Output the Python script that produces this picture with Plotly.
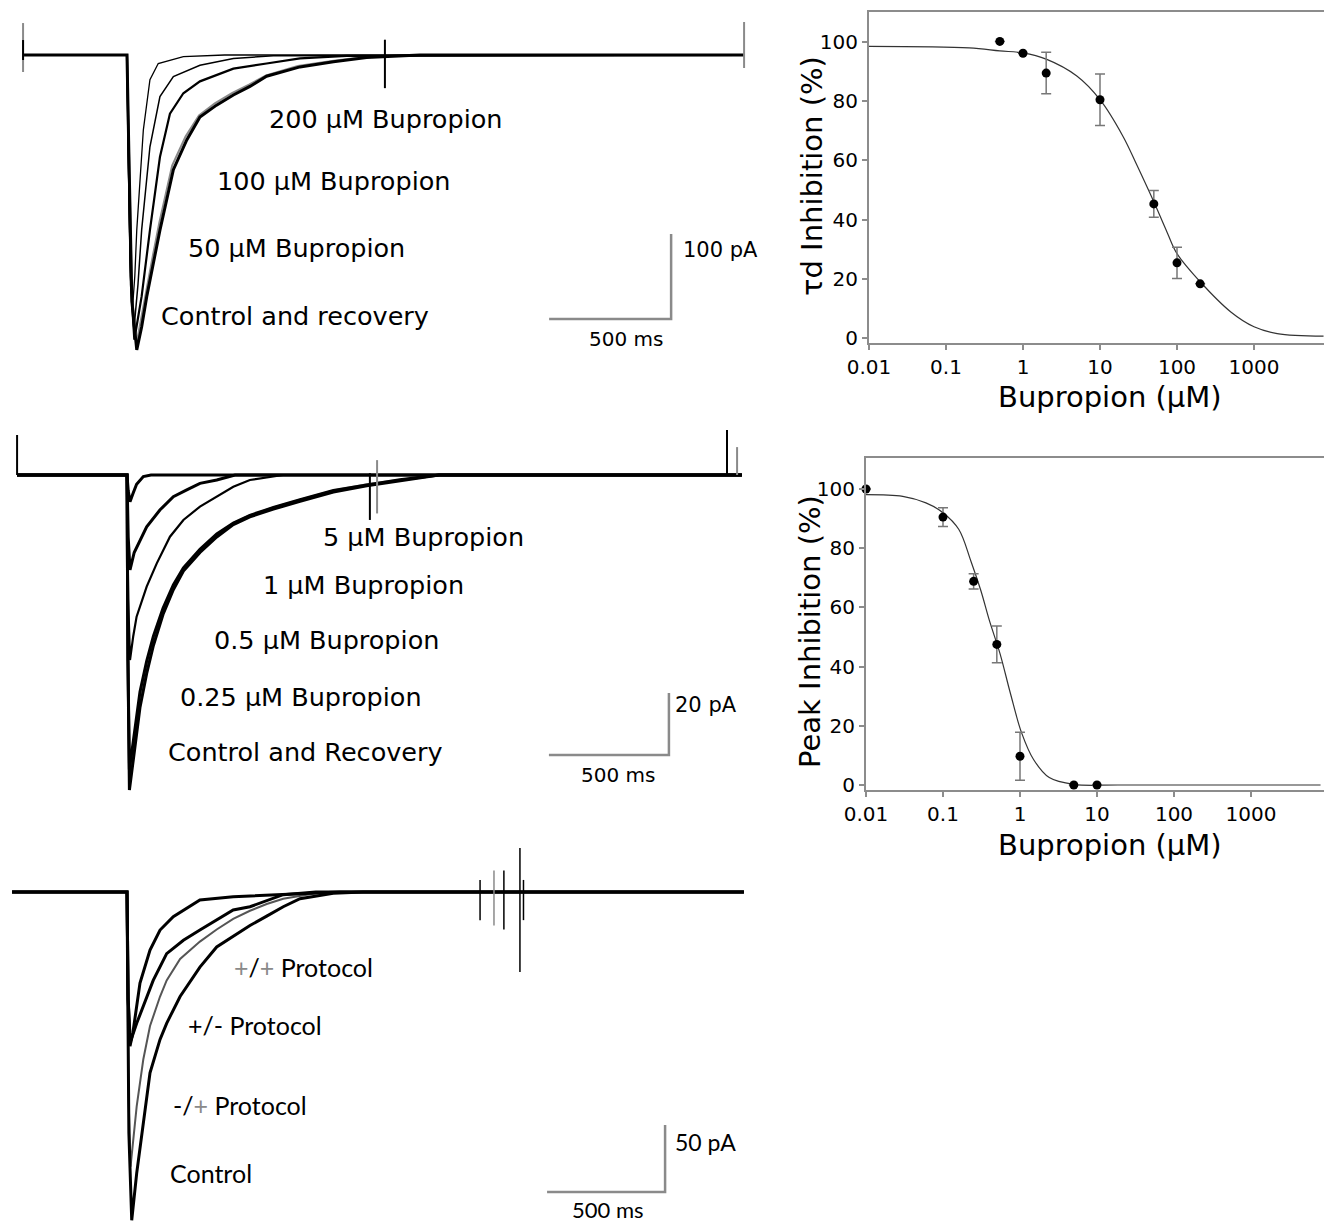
import plotly.graph_objects as go

W, H = 1324, 1224

# ---------------- Data: dose-response panels ----------------
tau_conc = [0.5, 1, 2, 10, 50, 100, 200]
tau_val = [100.2, 96.2, 89.5, 80.5, 45.3, 25.4, 18.3]
tau_err = [0, 0, 7, 8.7, 4.5, 5.3, 0]
tau_fit_conc = [0.01, 0.2, 0.5, 1, 2, 5, 10, 20, 30, 50, 75, 100, 200, 500, 1000, 2000, 8000]
tau_fit_val = [98.5, 98, 97, 96.3, 94.2, 88.5, 80.5, 68, 58.5, 46, 35.5, 28.5, 19, 8.8, 3.8, 1.5, 0.6]

peak_conc = [0.01, 0.1, 0.25, 0.5, 1, 5, 10]
peak_val = [100, 90.5, 68.8, 47.5, 9.7, 0, 0]
peak_err = [0, 3.2, 2.6, 6.2, 8.1, 0, 0]
peak_fit_conc = [0.01, 0.03, 0.06, 0.1, 0.16, 0.23, 0.31, 0.4, 0.55, 0.75, 1.05, 1.5, 2.4, 5, 20, 8000]
peak_fit_val = [98.1, 97.5, 95.3, 92, 86.4, 75.7, 65.7, 55.6, 44.4, 31, 17.6, 8.6, 2.5, 0.2, 0, 0]

x_tickvals = [0.01, 0.1, 1, 10, 100, 1000]
x_ticktext = ["0.01", "0.1", "1", "10", "100", "1000"]
y_tickvals = [0, 20, 40, 60, 80, 100]

# ---------------- Data: current traces (t in ms, I in pA) ----------------
# Panel A (tau_d)
A_start, A_end = -426, 2529
A_ctrl_t = [A_start, 0, 8, 20, 40, 60, 81, 108, 135, 190, 245, 299, 367, 436, 504, 572, 709, 846, 982, 1200, A_end]
A_ctrl_i = [0, 0, -120, -290, -347, -320, -284, -245, -206, -135, -100, -73, -59, -47, -37, -25, -14, -8, -3, 0, 0]
A_rec_t = [A_start, 0, 8, 20, 38, 58, 80, 106, 132, 185, 240, 295, 360, 430, 500, 570, 700, 840, 980, 1200, A_end]
A_rec_i = [0, 0, -110, -280, -341, -312, -276, -236, -198, -130, -96, -71, -57, -45, -35, -24, -13, -7, -2, 0, 0]
A_50_t = [A_start, 0, 6, 16, 30, 60, 94, 135, 176, 231, 299, 436, 572, 709, 900, A_end]
A_50_i = [0, 0, -110, -270, -335, -284, -206, -120, -69, -45, -31, -16, -10, -4, -1, 0]
A_100_t = [A_start, 0, 5, 14, 28, 45, 60, 94, 135, 190, 299, 436, 600, A_end]
A_100_i = [0, 0, -110, -260, -324, -270, -206, -108, -49, -25.5, -12, -4, -1, 0]
A_200_t = [A_start, 0, 4, 12, 22, 32, 40, 67, 94, 128, 231, 400, A_end]
A_200_i = [0, 0, -100, -240, -300, -260, -206, -88, -29, -10, -2, 0, 0]

# Panel B (peak)
B_start, B_end = -458, 2562
B_ctrl_t = [B_start, 0, 4, 10, 26, 54, 82, 110, 150, 193, 235, 304, 374, 443, 512, 610, 721, 860, 999, 1137, 1300, B_end]
B_ctrl_i = [0, 0, -60, -101.6, -92, -75, -64, -55, -45, -37, -31, -25, -20, -16, -13.5, -11, -8.5, -5.5, -3.5, -1.8, 0, 0]
B_rec_t = [B_start, 0, 4, 10, 26, 54, 82, 110, 150, 193, 235, 304, 374, 443, 512, 610, 721, 860, 999, 1137, 1300, B_end]
B_rec_i = [0, 0, -55, -98, -90, -73, -62, -54, -44, -36, -30.5, -24.5, -19.5, -15.5, -13, -10.5, -8, -5, -3, -1.5, 0, 0]
B_025_t = [B_start, 0, 4, 10, 26, 54, 82, 110, 150, 193, 235, 304, 374, 443, 512, 610, 721, 860, 999, 1137, 1300, B_end]
B_025_i = [0, 0, -60, -95, -86, -70, -60, -52, -43, -35.5, -30, -24, -19, -15.5, -13, -10.5, -8, -5, -3.2, -1.5, 0, 0]
B_05_t = [B_start, 0, 5, 12.5, 26, 40, 82, 124, 179, 235, 304, 374, 443, 512, 650, B_end]
B_05_i = [0, 0, -40, -59.7, -52, -45.7, -36, -28.5, -19.9, -14.5, -10.2, -7, -3.8, -1.6, 0, 0]
B_1_t = [B_start, 0, 5, 12.5, 30, 54, 82, 137, 193, 249, 304, 374, 450, B_end]
B_1_i = [0, 0, -20, -30.6, -25, -21, -16.7, -11.3, -7, -4.8, -2.7, -1.6, 0, 0]
B_5_t = [B_start, 0, 5, 12.5, 25, 40, 68, 100, B_end]
B_5_i = [0, 0, -5, -8.6, -6, -3, -0.5, 0, 0]

# Panel C (protocols)
C_start, C_end = -487, 2614
C_ctrl_t = [C_start, 0, 8, 20, 41, 69, 97.5, 140, 168, 225, 309, 380, 450, 521, 592, 662, 733, 874, 1000, C_end]
C_ctrl_i = [0, 0, -180, -245, -210, -173, -135, -110, -98, -78, -56, -41, -33, -25, -18, -11, -5, -1, 0, 0]
C_mp_t = [C_start, 0, 6, 15, 41, 69, 97.5, 140, 168, 225, 309, 380, 450, 521, 592, 662, 800, 900, C_end]
C_mp_i = [0, 0, -150, -205, -160, -125, -100, -78, -66, -50, -37, -28, -20, -14, -9, -5, -1, 0, 0]
C_pm_t = [C_start, 0, 5, 14, 41, 69, 111, 168, 239, 309, 380, 450, 521, 662, 800, C_end]
C_pm_i = [0, 0, -80, -112, -98, -85, -66, -46, -36, -28.4, -21, -13.4, -11, -2, 0, 0]
C_pp_t = [C_start, 0, 5, 12.7, 25, 55, 97.5, 140, 196, 267, 309, 450, 733, 900, C_end]
C_pp_i = [0, 0, -80, -115, -105, -68, -43.3, -28.4, -18.4, -11, -6, -3.5, -1, 0, 0]

# artefacts (t, top, bottom)
A_art = [(1057, 18, -39)]
A_ends = [(A_start, 37.6, -20), (A_end, 38.8, -15.3)]
B_art_black = [(B_start, 12.9, 0), (B_end - 62, 14.5, 0), (1012, 0.6, -14.5)]
B_art_gray = [(B_end - 20, 9, 0), (1042, 4.8, -12.4)]
C_art_black = [(1665, 32.8, -59.7), (1496, 9, -21), (1597, 16, -28), (1680, 9, -21)]
C_art_gray = [(1555, 16, -25)]

# scale bars: (t0, t1, i0, di)
A_bar = (1730, 2230, -310.6, 100)
B_bar = (1758, 2258, -90.3, 20)
C_bar = (1780, 2280, -223.9, 50)

# ---------------- Figure ----------------
def fx(p):
    return p / W

def fy(p):
    return 1 - p / H

fig = go.Figure()

def line(t, i, ax, color="black", width=2):
    fig.add_trace(go.Scatter(x=t, y=i, mode="lines", xaxis="x" + ax, yaxis="y" + ax,
                             line=dict(color=color, width=width), hoverinfo="skip",
                             showlegend=False))

# Panel A traces
line(A_rec_t, A_rec_i, "", "#8a8a8a", 2)
line(A_200_t, A_200_i, "", "black", 1.3)
line(A_100_t, A_100_i, "", "black", 1.5)
line(A_50_t, A_50_i, "", "black", 2.2)
line(A_ctrl_t, A_ctrl_i, "", "black", 3)
for t, a, b in A_art:
    line([t, t], [a, b], "", "black", 2)
for t, a, b in A_ends:
    line([t, t], [a, b], "", "#8a8a8a", 2)
line([A_ends[0][0]] * 2, [17.6, -5.9], "", "black", 2)

# Panel B traces
line(B_rec_t, B_rec_i, "2", "#8a8a8a", 2)
line(B_5_t, B_5_i, "2", "black", 3)
line(B_1_t, B_1_i, "2", "black", 3)
line(B_05_t, B_05_i, "2", "black", 2.2)
line(B_025_t, B_025_i, "2", "black", 3)
line(B_ctrl_t, B_ctrl_i, "2", "black", 3)
for t, a, b in B_art_gray:
    line([t, t], [a, b], "2", "#8a8a8a", 2)
for t, a, b in B_art_black:
    line([t, t], [a, b], "2", "black", 2)

# Panel C traces
line(C_mp_t, C_mp_i, "3", "#555555", 2)
line(C_pp_t, C_pp_i, "3", "black", 3)
line(C_pm_t, C_pm_i, "3", "black", 3)
line(C_ctrl_t, C_ctrl_i, "3", "black", 3)
for t, a, b in C_art_gray:
    line([t, t], [a, b], "3", "#8a8a8a", 1.5)
for t, a, b in C_art_black:
    line([t, t], [a, b], "3", "black", 1.5)

# scale bars
for (t0, t1, i0, di), ax in [(A_bar, ""), (B_bar, "2"), (C_bar, "3")]:
    line([t0, t1, t1], [i0, i0, i0 + di], ax, "#8a8a8a", 2.5)

# Dose-response panels
for conc, val, err, fc, fv, ax in [(tau_conc, tau_val, tau_err, tau_fit_conc, tau_fit_val, "4"),
                                   (peak_conc, peak_val, peak_err, peak_fit_conc, peak_fit_val, "5")]:
    fig.add_trace(go.Scatter(x=fc, y=fv, mode="lines", xaxis="x" + ax, yaxis="y" + ax,
                             line=dict(color="#333333", width=1.2, shape="spline"),
                             hoverinfo="skip", showlegend=False))
    fig.add_trace(go.Scatter(x=conc, y=val, mode="markers", xaxis="x" + ax, yaxis="y" + ax,
                             marker=dict(color="black", size=9),
                             error_y=dict(type="data", array=err, visible=True,
                                          color="#777777", thickness=1.5, width=5),
                             cliponaxis=False, hoverinfo="skip", showlegend=False))

# ---------------- Layout ----------------
def hidden(rng, dom):
    return dict(visible=False, range=rng, domain=dom, fixedrange=True)

A_t0, A_ppms, A_base, A_pppa = 127, 0.244, 55, 0.85
B_t0, B_ppms, B_base, B_pppa = 127, 0.24, 475, 3.1
C_t0, C_ppms, C_base, C_pppa = 127, 0.236, 892, 1.34
left_dom = [0, fx(760)]

def trange(t0, ppms):
    return [(0 - t0) / ppms, (760 - t0) / ppms]

def irange(base, pppa, top, bot):
    return [(base - bot) / pppa, (base - top) / pppa]

axis_col = "#8c8c8c"
tickfont = dict(family="DejaVu Sans", size=20, color="black")

def logx(dom_left, rng_hi, anchor):
    return dict(type="log", domain=[fx(dom_left), 1], range=[-2, rng_hi], anchor=anchor,
                showline=True, linecolor=axis_col, linewidth=2, mirror=True,
                ticks="outside", ticklen=5, tickcolor=axis_col, tickwidth=1.5,
                tickvals=x_tickvals, ticktext=x_ticktext, tickfont=tickfont,
                showgrid=False, zeroline=False, automargin=False)

def liny(top, bot, zero_px, anchor):
    pp = 2.96
    return dict(domain=[fy(bot), fy(top)], range=[(zero_px - bot) / pp, (zero_px - top) / pp],
                anchor=anchor, showline=True, linecolor=axis_col, linewidth=2, mirror=False,
                ticks="outside", ticklen=5, tickcolor=axis_col, tickwidth=1.5,
                tickvals=y_tickvals, tickfont=tickfont, showgrid=False, zeroline=False,
                automargin=False)

fig.update_layout(
    width=W, height=H, margin=dict(l=0, r=0, t=0, b=0, pad=0, autoexpand=False),
    paper_bgcolor="white", plot_bgcolor="rgba(0,0,0,0)", showlegend=False,
    xaxis=hidden(trange(A_t0, A_ppms), left_dom),
    yaxis=hidden(irange(A_base, A_pppa, 0, 380), [fy(380), 1]),
    xaxis2=dict(hidden(trange(B_t0, B_ppms), left_dom), anchor="y2"),
    yaxis2=dict(hidden(irange(B_base, B_pppa, 400, 810), [fy(810), fy(400)]), anchor="x2"),
    xaxis3=dict(hidden(trange(C_t0, C_ppms), left_dom), anchor="y3"),
    yaxis3=dict(hidden(irange(C_base, C_pppa, 820, 1224), [0, fy(820)]), anchor="x3"),
    xaxis4=logx(869, -2 + (1324 - 869) / 77, "y4"),
    yaxis4=liny(12, 343, 338, "x4"),
    xaxis5=logx(866, -2 + (1324 - 866) / 77, "y5"),
    yaxis5=liny(458, 790, 785, "x5"),
)

ann = []

def text(s, x, y, size, family="DejaVu Sans", xanchor="left", angle=0):
    ann.append(dict(text=s, x=fx(x), y=fy(y), xref="paper", yref="paper",
                    xanchor=xanchor, yanchor="middle", showarrow=False, textangle=angle,
                    borderpad=0, font=dict(family=family, size=size, color="black")))

S = 25.5
text("200 μM Bupropion", 268, 119, S)
text("100 μM Bupropion", 216, 181, S)
text("50 μM Bupropion", 187, 248, S)
text("Control and recovery", 160, 316, S)
text("100 pA", 682, 250, 21)
text("500 ms", 626, 339, 20, xanchor="center")

text("5 μM Bupropion", 322, 537, S)
text("1 μM Bupropion", 262, 585, S)
text("0.5 μM Bupropion", 213, 640, S)
text("0.25 μM Bupropion", 179, 697, S)
text("Control and Recovery", 167, 752, S)
text("20 pA", 674, 705, 21)
text("500 ms", 618, 775, 20, xanchor="center")

g = "<span style='color:#8a8a8a'>+</span>"
text(g + "/" + g + " Protocol", 233, 967, 25, "Lato")
text("+/- Protocol", 187, 1025, 25, "Lato")
text("-/" + g + " Protocol", 172, 1105, 25, "Lato")
text("Control", 169, 1173, 25, "Lato")
text("50 pA", 674, 1142, 23, "Lato")
text("500 ms", 608, 1209, 22, "Lato", xanchor="center")

text("τd Inhibition (%)", 812, 176, 29, xanchor="center", angle=-90)
text("Peak Inhibition (%)", 810, 632, 29, xanchor="center", angle=-90)
text("Bupropion (μM)", 1110, 397, 29, xanchor="center")
text("Bupropion (μM)", 1110, 845, 29, xanchor="center")

fig.update_layout(annotations=ann)
fig.write_html("out.html")
